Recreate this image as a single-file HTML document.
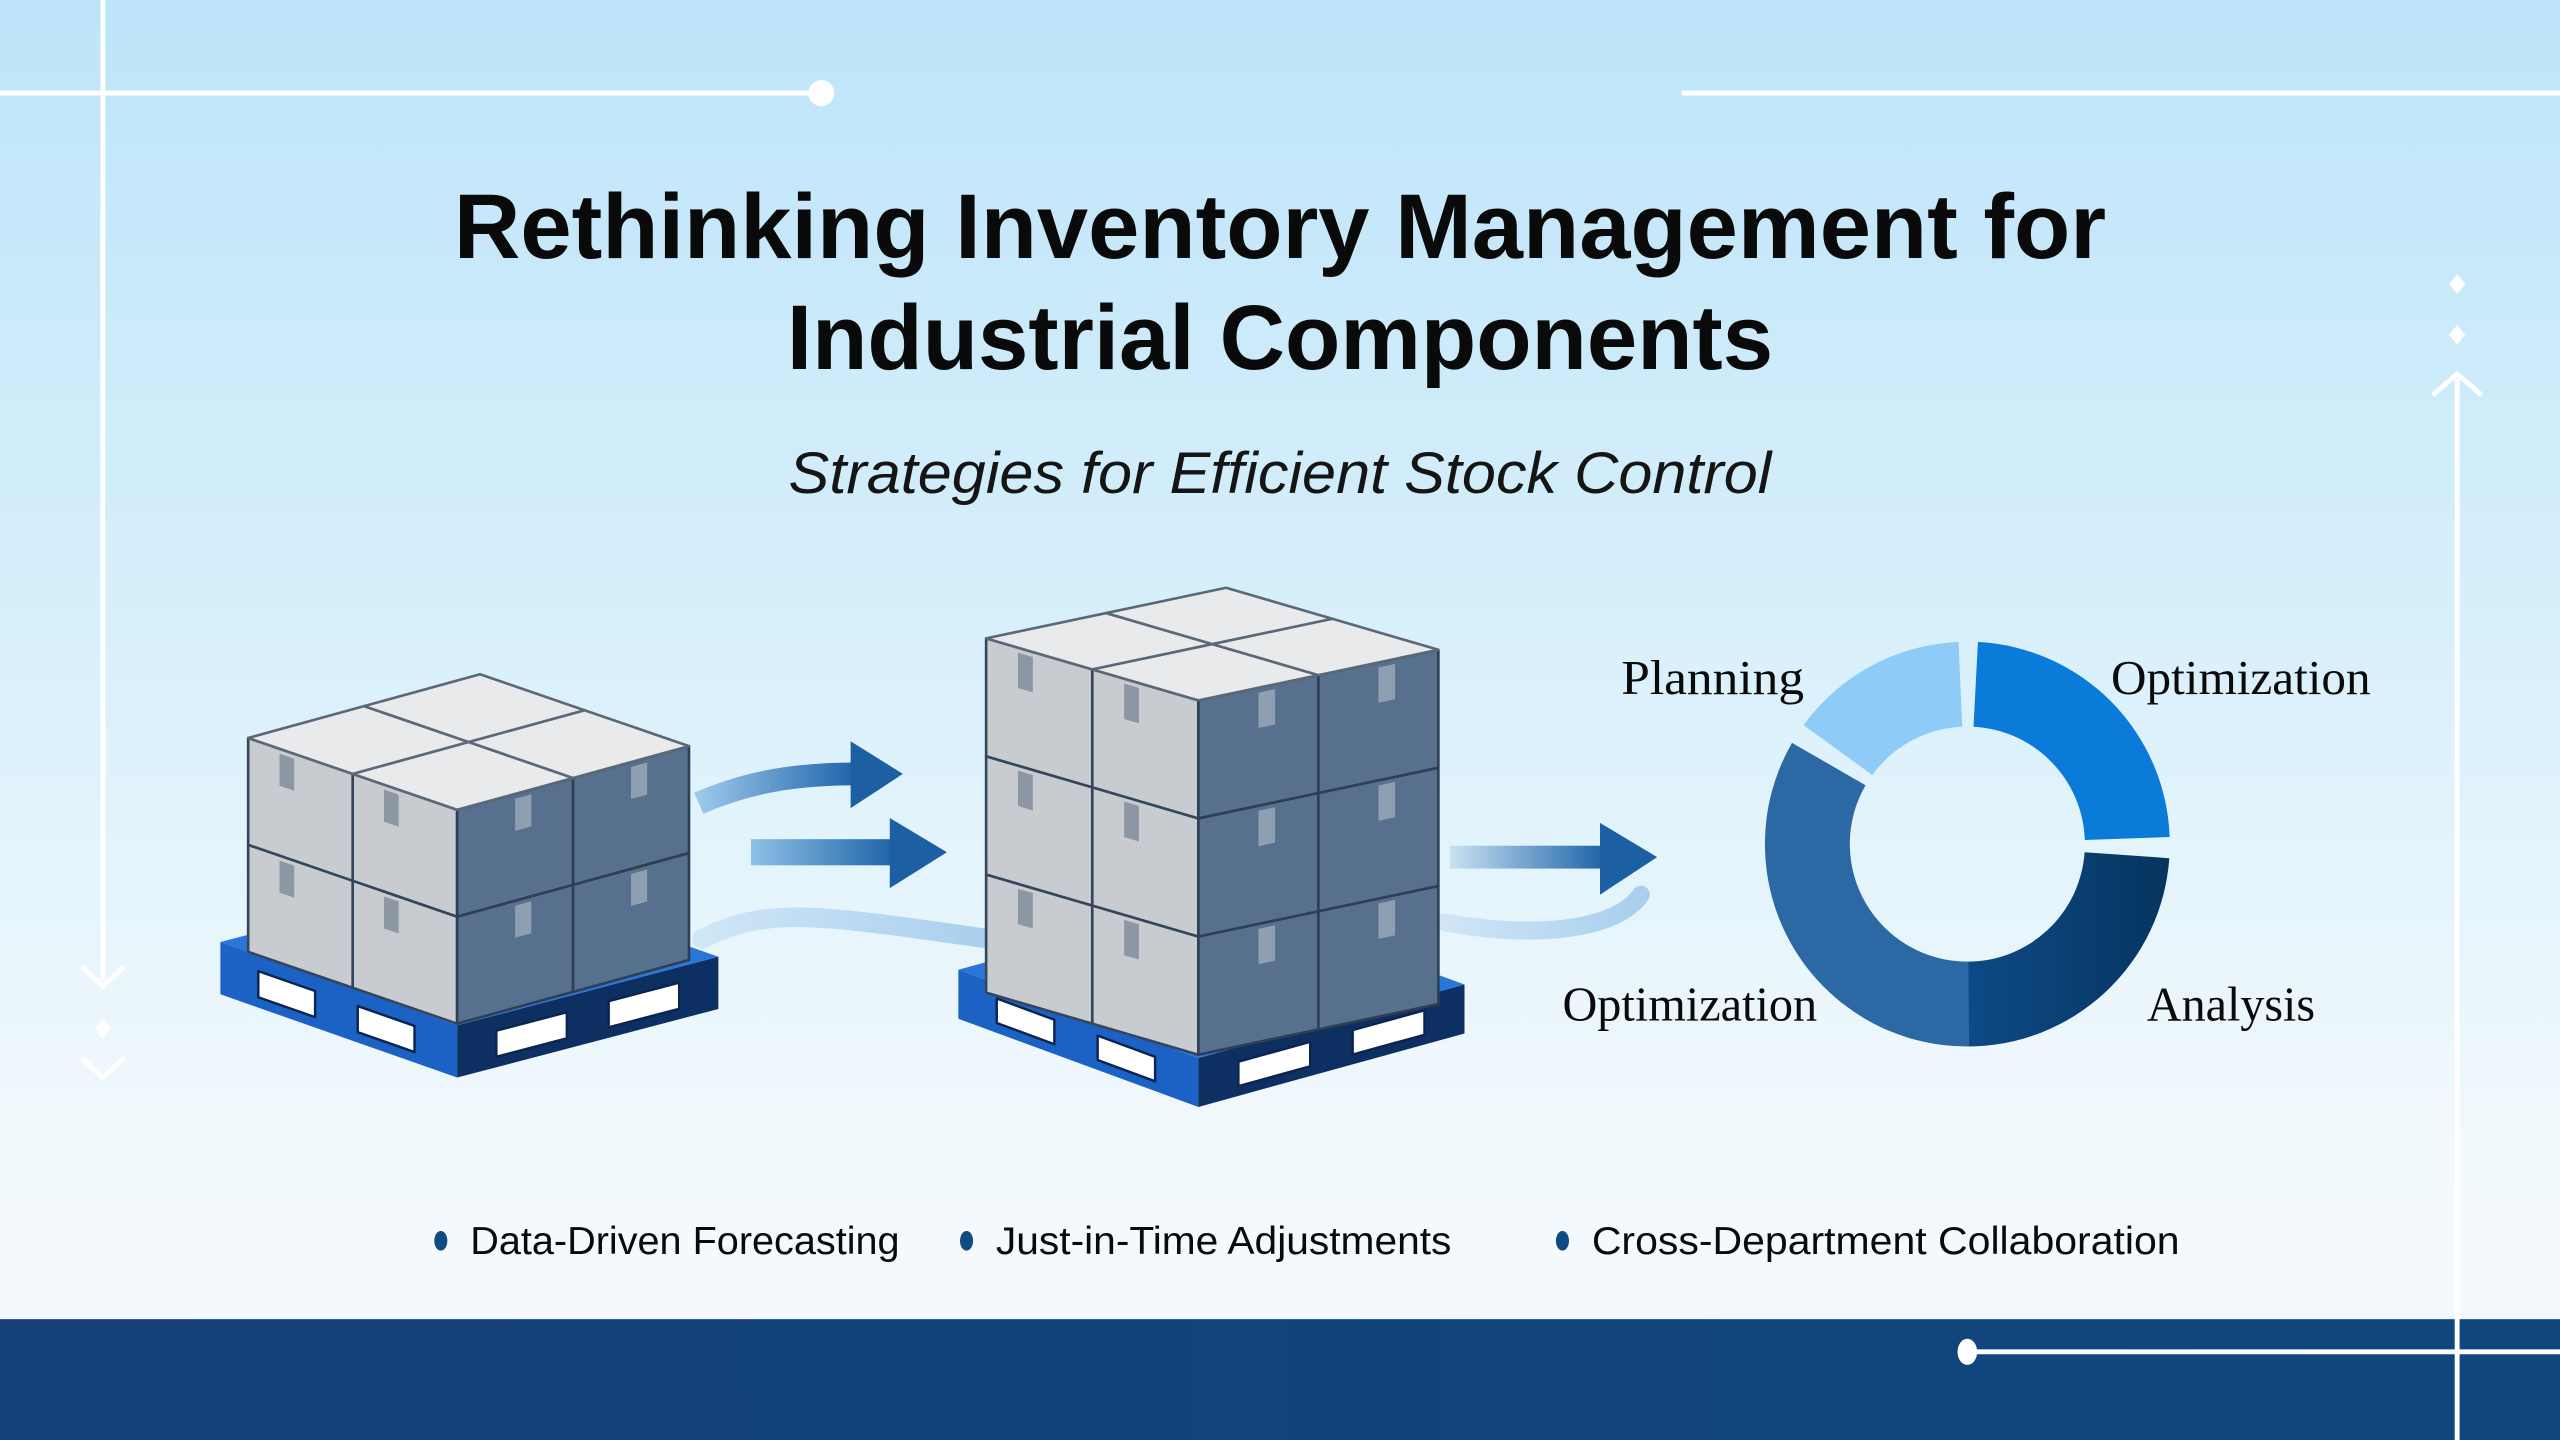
<!DOCTYPE html>
<html><head><meta charset="utf-8"><style>
html,body{margin:0;padding:0;width:2560px;height:1440px;overflow:hidden}
svg{display:block}
</style></head><body>
<svg id="s" width="2560" height="1440" viewBox="0 0 1568 882" xmlns="http://www.w3.org/2000/svg">
<defs>
<linearGradient id="bg" x1="0" y1="0" x2="0" y2="1">
<stop offset="0" stop-color="#bde4f9"/><stop offset="0.45" stop-color="#d9f0fb"/><stop offset="0.8" stop-color="#f2f9fc"/><stop offset="1" stop-color="#f6fafc"/>
</linearGradient>
<linearGradient id="band" x1="0" y1="0" x2="1" y2="0">
<stop offset="0" stop-color="#143f78"/><stop offset="1" stop-color="#0f477e"/>
</linearGradient>
<linearGradient id="ar1" gradientUnits="userSpaceOnUse" x1="428" y1="0" x2="525" y2="0">
<stop offset="0" stop-color="#9cc8ea"/><stop offset="1" stop-color="#1d63a8"/>
</linearGradient>
<linearGradient id="ar2" gradientUnits="userSpaceOnUse" x1="460" y1="0" x2="548" y2="0">
<stop offset="0" stop-color="#8fc0e6"/><stop offset="1" stop-color="#1d63a8"/>
</linearGradient>
<linearGradient id="ar3" gradientUnits="userSpaceOnUse" x1="885" y1="0" x2="983" y2="0">
<stop offset="0" stop-color="#cfe6f6"/><stop offset="1" stop-color="#1d63a8"/>
</linearGradient>
<linearGradient id="arf" x1="0" y1="0" x2="1" y2="0">
<stop offset="0" stop-color="#cfe6f6"/><stop offset="1" stop-color="#a9cfee"/>
</linearGradient>
<linearGradient id="dk" x1="0" y1="0" x2="1" y2="0">
<stop offset="0" stop-color="#0d4a86"/><stop offset="1" stop-color="#06355f"/>
</linearGradient>
</defs>
<rect width="1568" height="882" fill="url(#bg)"/>
<rect y="808" width="1568" height="74" fill="url(#band)"/>
<g stroke="#ffffff" stroke-width="3" fill="none">
<line x1="0" y1="57" x2="503" y2="57"/>
<line x1="1030" y1="57" x2="1568" y2="57"/>
<line x1="63" y1="0" x2="63" y2="600"/>
<polyline points="50,592 63,604 76,592"/>
<polyline points="50,648 63,660 76,648"/>
<line x1="1505" y1="232" x2="1505" y2="882"/>
<polyline points="1490,242 1505,229 1520,242"/>
<line x1="1205" y1="828" x2="1568" y2="828"/>
</g>
<circle cx="503" cy="57" r="8" fill="#fff"/>
<ellipse cx="1205" cy="828" rx="6" ry="8" fill="#fff"/>
<path d="M63 624 l5 6 -5 6 -5 -6z M1505 168 l5 6 -5 6 -5 -6z M1505 199 l5 6 -5 6 -5 -6z" fill="#fff"/>

<g font-family="Liberation Sans, sans-serif" fill="#0a0a0a">
<text x="278" y="158" font-size="56" font-weight="bold" textLength="1012" lengthAdjust="spacingAndGlyphs">Rethinking Inventory Management for</text>
<text x="482" y="226" font-size="56" font-weight="bold" textLength="604" lengthAdjust="spacingAndGlyphs">Industrial Components</text>
<text x="483" y="302" font-size="36" font-style="italic" textLength="602" lengthAdjust="spacingAndGlyphs" fill="#151515">Strategies for Efficient Stock Control</text>
<text x="288" y="768" font-size="24" textLength="263" lengthAdjust="spacingAndGlyphs">Data-Driven Forecasting</text>
<text x="610" y="768" font-size="24" textLength="279" lengthAdjust="spacingAndGlyphs">Just-in-Time Adjustments</text>
<text x="975" y="768" font-size="24" textLength="360" lengthAdjust="spacingAndGlyphs">Cross-Department Collaboration</text>
</g>
<g fill="#0f4a80"><ellipse cx="270" cy="760" rx="4" ry="6"/><ellipse cx="592" cy="760" rx="4" ry="6"/><ellipse cx="957" cy="760" rx="4" ry="6"/></g>

<g font-family="Liberation Serif, serif" fill="#0a0a0a" font-size="30">
<text x="993" y="425" textLength="112" lengthAdjust="spacingAndGlyphs">Planning</text>
<text x="1293" y="425" textLength="159" lengthAdjust="spacingAndGlyphs">Optimization</text>
<text x="957" y="625" textLength="156" lengthAdjust="spacingAndGlyphs">Optimization</text>
<text x="1315" y="625" textLength="103" lengthAdjust="spacingAndGlyphs">Analysis</text>
</g>

<!-- arrows -->
<path d="M430 575 C470 555,500 560,605 575" stroke="url(#arf)" stroke-width="12" fill="none" stroke-linecap="round"/>
<path d="M885 565 C940 575,990 570,1005 548" stroke="url(#arf)" stroke-width="11" fill="none" stroke-linecap="round"/>
<path d="M428 492 C460 478,490 474,525 474" stroke="url(#ar1)" stroke-width="14" fill="none"/>
<path d="M521 454 L553 474 L521 495z" fill="#1d5fa3"/>
<rect x="460" y="514" width="88" height="16" fill="url(#ar2)"/>
<path d="M545 501 L580 522 L545 544z" fill="#1d5fa3"/>
<rect x="888" y="518" width="95" height="14" fill="url(#ar3)"/>
<path d="M980 504 L1015 525 L980 548z" fill="#1d5fa3"/>

<g id="stacks"></g>
<g id="donut"></g>
</svg>
<script>
var NS="http://www.w3.org/2000/svg";
var st=document.getElementById("stacks");
function P(pts,fill,stroke,sw){var e=document.createElementNS(NS,"polygon");e.setAttribute("points",pts.map(function(p){return p[0].toFixed(1)+","+p[1].toFixed(1)}).join(" "));e.setAttribute("fill",fill);if(stroke){e.setAttribute("stroke",stroke);e.setAttribute("stroke-width",sw||1.5);e.setAttribute("stroke-linejoin","round");}st.appendChild(e);}
function add(a,b){return [a[0]+b[0],a[1]+b[1]];}
function mul(v,k){return [v[0]*k,v[1]*k];}
function face(o,u,v,fill,stroke,sw){P([o,add(o,u),add(add(o,u),v),add(o,v)],fill,stroke,sw);}
function pallet(F,L,R,h){
 var D=[0,h];
 face(F,L,D,"#1c62c4");
 face(F,R,D,"#0e2f62");
 [0.18,0.6].forEach(function(t){face(add(add(F,mul(L,t)),[0,h*0.3]),mul(L,0.24),[0,h*0.5],"#ffffff","#0b2550",1.5);});
 [0.15,0.58].forEach(function(t){face(add(add(F,mul(R,t)),[0,h*0.3]),mul(R,0.27),[0,h*0.5],"#ffffff","#0b2550",1.5);});
 face(F,L,R,"#2a75d8");
}
function stack(F,L,R,H,n){
 var bh=H/n;
 for(var k=0;k<n;k++){
  for(var i=0;i<2;i++){
   var o=add(add(F,mul(L,i/2)),[0,k*bh]);
   face(o,mul(L,0.5),[0,bh],"#c8cbcf","#34465c",1.6);
   var tp=add(add(o,mul(L,0.25+0.03)),[0,3]);
   face(tp,mul(L,0.07),[0,bh*0.3],"#8d97a3");
   var o2=add(add(F,mul(R,i/2)),[0,k*bh]);
   face(o2,mul(R,0.5),[0,bh],"#56708e","#2d3f55",1.6);
   var tp2=add(add(o2,mul(R,0.25)),[0,3]);
   face(tp2,mul(R,0.07),[0,bh*0.3],"#8e9fb2");
  }
 }
 for(var i=0;i<2;i++)for(var j=0;j<2;j++){
  var o=add(add(F,mul(L,i/2)),mul(R,j/2));
  face(o,mul(L,0.5),mul(R,0.5),"#e9eaec","#5a6878",1.6);
 }
}
pallet([280,628],[-145,-51],[160,-42],32);
stack([280,496],[-128,-44],[142,-39],131,2);
pallet([734,648],[-147,-54],[163,-45],30);
stack([734,429],[-130,-38],[147,-31],217,3);

var dn=document.getElementById("donut");
var cx=1205,cy=517,Ro=124,Ri=72;
function pt(r,a){var t=(a-90)*Math.PI/180;return [cx+r*Math.cos(t),cy+r*Math.sin(t)];}
function seg(a0,a1,fill){
 var p1=pt(Ro,a0),p2=pt(Ro,a1),p3=pt(Ri,a1),p4=pt(Ri,a0);var lg=(a1-a0)>180?1:0;
 var d="M"+p1[0]+" "+p1[1]+" A"+Ro+" "+Ro+" 0 "+lg+" 1 "+p2[0]+" "+p2[1]+" L"+p3[0]+" "+p3[1]+" A"+Ri+" "+Ri+" 0 "+lg+" 0 "+p4[0]+" "+p4[1]+"Z";
 var e=document.createElementNS(NS,"path");e.setAttribute("d",d);e.setAttribute("fill",fill);dn.appendChild(e);
}
seg(3,88,"#0a7bd9");
seg(94,180,"url(#dk)");
seg(179.5,300,"#2c68a4");
seg(306,357.5,"#8ecbf6");
</script>
</body></html>
